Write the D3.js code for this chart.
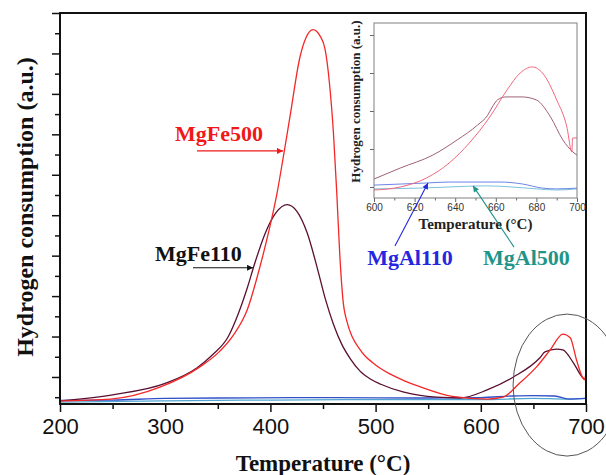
<!DOCTYPE html>
<html>
<head>
<meta charset="utf-8">
<script src="https://cdn.jsdelivr.net/npm/d3@7"></script>
<style>
  body { margin: 0; background: #fff; }
  svg { display: block; }
</style>
</head>
<body>
<div id="chart"></div>
<script>
// ---- data (temperature in °C, signal in a.u.) ----
const fe500T = [200,248,295,333,352,365,378,390,398,406,412,419,428,434,440.5,447,452,456,460,463,466,469,473,478,484,490,497,504,514,528,542,573,606,621,637,653,666,678,685,691,697,698.6,700];
const fe500V = [0.41,0.455,0.75,1.25,1.64,2.04,2.66,3.72,4.55,5.5,6.4,7.5,8.9,9.4,9.59,9.44,9.1,8.3,7.0,5.6,4.0,2.9,2.35,1.98,1.72,1.52,1.36,1.22,1.07,0.9,0.76,0.52,0.455,0.50,0.85,1.25,1.67,2.06,1.97,1.42,0.975,0.93,1.12];

const fe110T = [200,250,300,330,345,360,370,378,385,395,405,416,425,435,445,452,460,468,476,485,495,505,526,558,580,606,631,656,661,672,678,688,697,700];
const fe110V = [0.41,0.56,0.84,1.22,1.55,2.0,2.6,3.2,3.8,4.55,5.05,5.26,5.1,4.56,3.65,2.95,2.3,1.8,1.45,1.15,0.95,0.82,0.63,0.50,0.48,0.68,1.0,1.47,1.62,1.69,1.67,1.35,0.98,0.93];

const al110T = [200,250,300,350,450,550,600,630,650,670,685,700];
const al110V = [0.42,0.43,0.47,0.48,0.49,0.48,0.49,0.53,0.54,0.53,0.455,0.47];

const al500T = [200,300,400,500,600,650,680,700];
const al500V = [0.38,0.41,0.43,0.44,0.44,0.47,0.455,0.47];

// inset, 600-700 °C zoom
const inFe110T = [600,613,629,641,651,656,658,661,665,673,680,687,693,698,700];
const inFe110V = [0.21,0.50,0.84,1.24,1.63,1.89,2.08,2.3,2.37,2.37,2.29,1.84,1.24,0.92,0.84];
const inFe500T = [600,613,626,637,647,657,665.5,672,678,683,690,695,697.5,697.8,700];
const inFe500V = [-0.08,0.0,0.24,0.63,1.16,1.84,2.55,3.0,3.16,3.0,2.29,1.58,0.92,1.29,1.29];
const inAl110T = [600,626,637,662,673,683,690,700];
const inAl110V = [0.05,0.105,0.13,0.13,0.08,-0.03,-0.05,-0.03];
const inAl500T = [600,622,637,655,668,680,690,700];
const inAl500V = [-0.05,-0.03,0.0,0.03,0.0,-0.05,-0.08,-0.05];

const xMajor = [200,300,400,500,600,700];
const xMinor = [250,350,450,550,650];
const yMajor = [1,2,3,4,5,6,7,8,9,10];
const yMinor = [0.5,1.5,2.5,3.5,4.5,5.5,6.5,7.5,8.5,9.5];
const inXMajor = [600,620,640,660,680,700];
const inXMinor = [610,630,650,670,690];
const inYTicks = [0,1,2,3,4];

const zip = (t, v) => t.map((d, i) => [d, v[i]]);

const W = 606, H = 475;
const serif = "'Liberation Serif','Times New Roman',serif";
const sans = "'Liberation Sans',Arial,sans-serif";

const svg = d3.select("#chart").append("svg").attr("width", W).attr("height", H);

const defs = svg.append("defs");
function marker(id, color) {
  defs.append("marker").attr("id", id)
    .attr("viewBox", "0 0 10 10").attr("refX", 10).attr("refY", 5)
    .attr("markerWidth", 9).attr("markerHeight", 6).attr("markerUnits", "userSpaceOnUse")
    .attr("orient", "auto")
    .append("path").attr("d", "M0,0L10,5L0,10Z").attr("fill", color);
}
marker("arRed", "#f01818");
marker("arBlack", "#111");
marker("arBlue", "#2626e0");
marker("arTeal", "#1f9488");

// ---------- main plot ----------
const x = d3.scaleLinear().domain([200, 700]).range([60, 586]);
const y = d3.scaleLinear().domain([0.332, 10]).range([404, 13]);

const line = d3.line().x(d => x(d[0])).y(d => y(d[1])).curve(d3.curveMonotoneX);

const series = [
  { pts: zip(al500T, al500V), color: "#4fa6d0" },
  { pts: zip(al110T, al110V), color: "#3050c8" },
  { pts: zip(fe110T, fe110V), color: "#5a1030" },
  { pts: zip(fe500T, fe500V), color: "#f42828" }
];
svg.append("g").selectAll("path").data(series).enter().append("path")
  .attr("d", d => line(d.pts))
  .attr("fill", "none")
  .attr("stroke", d => d.color)
  .attr("stroke-width", 1.3);

function styleAxis(g) {
  g.select(".domain").remove();
  g.selectAll(".tick line").attr("stroke", "#111").attr("stroke-width", 1.5);
}

svg.append("g").attr("transform", `translate(0,${y.range()[0]})`)
  .call(d3.axisBottom(x).tickValues(xMajor).tickSize(8).tickPadding(6).tickFormat(d3.format("d")))
  .call(styleAxis)
  .call(g => g.selectAll("text").attr("font-family", sans).attr("font-size", 22).attr("fill", "#111"));
svg.append("g").attr("transform", `translate(0,${y.range()[0]})`)
  .call(d3.axisBottom(x).tickValues(xMinor).tickSize(5).tickFormat(""))
  .call(styleAxis);
svg.append("g").attr("transform", `translate(${x.range()[0]},0)`)
  .call(d3.axisLeft(y).tickValues(yMajor).tickSize(8).tickFormat(""))
  .call(styleAxis);
svg.append("g").attr("transform", `translate(${x.range()[0]},0)`)
  .call(d3.axisLeft(y).tickValues(yMinor).tickSize(5).tickFormat(""))
  .call(styleAxis);

svg.append("rect")
  .attr("x", x.range()[0]).attr("y", y.range()[1])
  .attr("width", x.range()[1] - x.range()[0]).attr("height", y.range()[0] - y.range()[1])
  .attr("fill", "none").attr("stroke", "#111").attr("stroke-width", 2);

svg.append("text")
  .attr("x", (x.range()[0] + x.range()[1]) / 2).attr("y", 471)
  .attr("text-anchor", "middle").attr("font-family", serif).attr("font-weight", "bold")
  .attr("font-size", 23).attr("fill", "#111")
  .text("Temperature (°C)");
svg.append("text")
  .attr("transform", "translate(33,207) rotate(-90)")
  .attr("text-anchor", "middle").attr("font-family", serif).attr("font-weight", "bold")
  .attr("font-size", 24).attr("fill", "#111")
  .text("Hydrogen consumption (a.u.)");

// circled region around the high-temperature peaks
svg.append("ellipse")
  .attr("cx", x(682)).attr("cy", y(0.8)).attr("rx", 54).attr("ry", 71)
  .attr("fill", "none").attr("stroke", "#555").attr("stroke-width", 1);

// ---------- inset ----------
const ix = d3.scaleLinear().domain([600, 700]).range([374, 577]);
const iy = d3.scaleLinear().domain([-0.29, 4.316]).range([198, 23]);
const iline = d3.line().x(d => ix(d[0])).y(d => iy(d[1])).curve(d3.curveMonotoneX);

svg.append("rect")
  .attr("x", ix.range()[0]).attr("y", iy.range()[1])
  .attr("width", ix.range()[1] - ix.range()[0]).attr("height", iy.range()[0] - iy.range()[1])
  .attr("fill", "#fff").attr("stroke", "none");

const iseries = [
  { pts: zip(inAl500T, inAl500V), color: "#7cc2de" },
  { pts: zip(inAl110T, inAl110V), color: "#6c86e4" },
  { pts: zip(inFe110T, inFe110V), color: "#a06078" },
  { pts: zip(inFe500T, inFe500V), color: "#f2687e" }
];
svg.append("g").selectAll("path").data(iseries).enter().append("path")
  .attr("d", d => iline(d.pts))
  .attr("fill", "none")
  .attr("stroke", d => d.color)
  .attr("stroke-width", 1);

function styleInset(g) {
  g.select(".domain").remove();
  g.selectAll(".tick line").attr("stroke", "#666").attr("stroke-width", 1);
}
svg.append("g").attr("transform", `translate(0,${iy.range()[0]})`)
  .call(d3.axisBottom(ix).tickValues(inXMajor).tickSize(4).tickPadding(2).tickFormat(d3.format("d")))
  .call(styleInset)
  .call(g => g.selectAll("text").attr("font-family", sans).attr("font-size", 10).attr("fill", "#333"));
svg.append("g").attr("transform", `translate(0,${iy.range()[0]})`)
  .call(d3.axisBottom(ix).tickValues(inXMinor).tickSize(2.5).tickFormat(""))
  .call(styleInset);
svg.append("g").attr("transform", `translate(${ix.range()[0]},0)`)
  .call(d3.axisLeft(iy).tickValues(inYTicks).tickSize(4).tickFormat(""))
  .call(styleInset);

svg.append("rect")
  .attr("x", ix.range()[0]).attr("y", iy.range()[1])
  .attr("width", ix.range()[1] - ix.range()[0]).attr("height", iy.range()[0] - iy.range()[1])
  .attr("fill", "none").attr("stroke", "#808080").attr("stroke-width", 1);

svg.append("text")
  .attr("x", (ix.range()[0] + ix.range()[1]) / 2).attr("y", iy.range()[0] + 31)
  .attr("text-anchor", "middle").attr("font-family", serif).attr("font-weight", "bold")
  .attr("font-size", 15).attr("fill", "#222")
  .text("Temperature (°C)");
svg.append("text")
  .attr("transform", `translate(${ix.range()[0] - 14},${iy(2.25)}) rotate(-90)`)
  .attr("text-anchor", "middle").attr("font-family", serif).attr("font-weight", "bold")
  .attr("font-size", 13).attr("fill", "#222")
  .text("Hydrogen consumption (a.u.)");

// ---------- labels and arrows ----------
function label(txt, px, py, color, anchor) {
  svg.append("text").attr("x", px).attr("y", py)
    .attr("text-anchor", anchor).attr("font-family", serif).attr("font-weight", "bold")
    .attr("font-size", 22).attr("fill", color).text(txt);
}
function arrow(x1, y1, x2, y2, color, id) {
  svg.append("line").attr("x1", x1).attr("y1", y1).attr("x2", x2).attr("y2", y2)
    .attr("stroke", color).attr("stroke-width", 1.1).attr("marker-end", `url(#${id})`);
}

label("MgFe500", x(309.3), y(6.84), "#f01818", "start");
arrow(x(330.2), y(6.59), x(412), y(6.59), "#f01818", "arRed");

label("MgFe110", x(290.3), y(3.87), "#111", "start");
arrow(x(326.4), y(3.70), x(383.5), y(3.70), "#111", "arBlack");

label("MgAl110", x(532.7), y(3.77), "#2626e0", "middle");
arrow(x(518.4), y(4.24), ix(626.6), iy(0.105), "#2626e0", "arBlue");

label("MgAl500", x(643.4), y(3.77), "#1f9488", "middle");
arrow(x(631.6), y(4.21), ix(648.8), iy(0.03), "#1f9488", "arTeal");
</script>
</body>
</html>
